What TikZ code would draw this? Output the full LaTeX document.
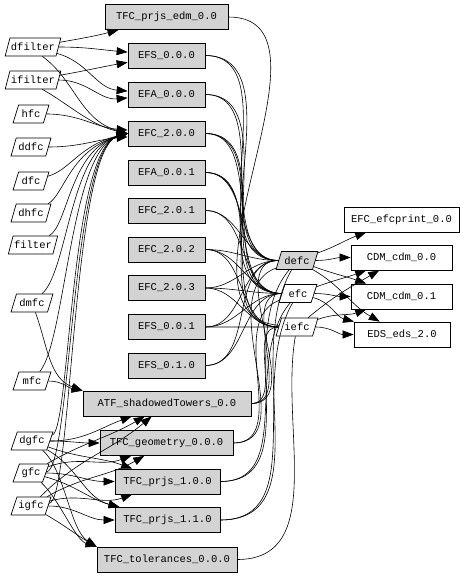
\documentclass[tikz,border=0pt]{standalone}
\usepackage{fontspec}
\setmonofont{Liberation Mono}
\usetikzlibrary{positioning,arrows.meta,shapes.geometric}
\definecolor{boxgray}{HTML}{D3D3D3}
\tikzset{
  flowarrow/.style={-{Triangle[length=11pt,width=8pt]}, line width=0.6pt},
  flowline/.style={line width=0.6pt},
  procbox/.style={draw, line width=0.7pt, fill=boxgray, minimum height=25pt, inner xsep=0pt},
  outbox/.style={draw, line width=0.7pt, fill=white, minimum height=25pt, inner xsep=0pt},
  filenode/.style={draw, line width=0.7pt, fill=white, trapezium, trapezium left angle=64, trapezium right angle=116, trapezium stretches=true, minimum height=18pt, inner xsep=1pt, inner ysep=1pt},
  shadefile/.style={filenode, fill=boxgray}
}

\begin{document}
\begin{tikzpicture}[x=1pt, y=-1pt, every node/.style={font=\ttfamily\fontsize{10.5}{12}\selectfont}]
  \useasboundingbox (0,0) rectangle (464,576);
  % input files
  \node[filenode, minimum width=54pt] (dfilter) at (33,47) {dfilter};
  \node[filenode, minimum width=54pt] (ifilter) at (33,80) {ifilter};
  \node[filenode, minimum width=36pt] (hfc) at (31,114) {hfc};
  \node[filenode, minimum width=40pt] (ddfc) at (31,147) {ddfc};
  \node[filenode, minimum width=36pt] (dfc) at (31,181) {dfc};
  \node[filenode, minimum width=40pt] (dhfc) at (31,213) {dhfc};
  \node[filenode, minimum width=48pt] (filter) at (33,245) {filter};
  \node[filenode, minimum width=42pt] (dmfc) at (32,303) {dmfc};
  \node[filenode, minimum width=38pt] (mfc) at (32,381) {mfc};
  \node[filenode, minimum width=42pt] (dgfc) at (32,441) {dgfc};
  \node[filenode, minimum width=36pt] (gfc) at (31,473) {gfc};
  \node[filenode, minimum width=40pt] (igfc) at (31,506) {igfc};
  % processing steps
  \node[procbox, minimum width=123pt] (tfcedm) at (166.5,17) {TFC\_prjs\_edm\_0.0};
  \node[procbox, minimum width=77pt] (efs000) at (166.5,55.5) {EFS\_0.0.0};
  \node[procbox, minimum width=77pt] (efa000) at (166.5,94.5) {EFA\_0.0.0};
  \node[procbox, minimum width=77pt] (efc200) at (166.5,133.5) {EFC\_2.0.0};
  \node[procbox, minimum width=77pt] (efa001) at (166.5,172.5) {EFA\_0.0.1};
  \node[procbox, minimum width=77pt] (efc201) at (166.5,210.5) {EFC\_2.0.1};
  \node[procbox, minimum width=77pt] (efc202) at (166.5,249.5) {EFC\_2.0.2};
  \node[procbox, minimum width=77pt] (efc203) at (166.5,288) {EFC\_2.0.3};
  \node[procbox, minimum width=77pt] (efs001) at (166.5,327) {EFS\_0.0.1};
  \node[procbox, minimum width=77pt] (efs010) at (166.5,365.5) {EFS\_0.1.0};
  \node[procbox, minimum width=168pt] (atf) at (167,403.5) {ATF\_shadowedTowers\_0.0};
  \node[procbox, minimum width=133pt] (tfcgeo) at (166.5,443) {TFC\_geometry\_0.0.0};
  \node[procbox, minimum width=105pt] (tfcp100) at (167.5,481.5) {TFC\_prjs\_1.0.0};
  \node[procbox, minimum width=105pt] (tfcp110) at (167.5,520) {TFC\_prjs\_1.1.0};
  \node[procbox, minimum width=140pt] (tfctol) at (167,559.5) {TFC\_tolerances\_0.0.0};
  % intermediate files
  \node[shadefile, minimum width=42pt] (defc) at (297,260.5) {defc};
  \node[filenode, minimum width=38pt] (efc) at (298,293.5) {efc};
  \node[filenode, minimum width=42pt] (iefc) at (297,327) {iefc};
  % outputs
  \node[outbox, minimum width=115pt] (efcprint) at (401.5,219.5) {EFC\_efcprint\_0.0};
  \node[outbox, minimum width=101pt] (cdm00) at (401.5,257.5) {CDM\_cdm\_0.0};
  \node[outbox, minimum width=101pt] (cdm01) at (401.5,296.5) {CDM\_cdm\_0.1};
  \node[outbox, minimum width=96pt] (eds20) at (402,334.5) {EDS\_eds\_2.0};

  % inputs to steps
  \draw[flowarrow] (dfilter) to[out=10,in=195] (tfcedm);
  \draw[flowarrow] (dfilter) to[out=0,in=175] (efs000);
  \draw[flowarrow] (dfilter) to[out=-15,in=175] (efa000);
  \draw[flowarrow] (dfilter.south east) .. controls (75,80) and (80,120) .. (efc200.west);
  \draw[flowarrow] (ifilter) to[out=10,in=190] (efs000);
  \draw[flowarrow] (ifilter) to[out=0,in=185] (efa000);
  \draw[flowarrow] (ifilter.south east) .. controls (70,105) and (90,125) .. (efc200.west);
  \draw[flowarrow] (hfc) to[out=0,in=175] (efc200);
  \draw[flowarrow] (ddfc) to[out=0,in=185] (efc200);
  \draw[flowarrow] (dfc) .. controls (70,170) and (80,145) .. (efc200.west);
  \draw[flowarrow] (dhfc) .. controls (64,195) and (70,150) .. (efc200.west);
  \draw[flowarrow] (filter) .. controls (68,225) and (70,150) .. (efc200.west);
  \draw[flowarrow] (dmfc) .. controls (68,270) and (70,150) .. (efc200.west);
  \draw[flowarrow] (mfc) .. controls (66,340) and (70,150) .. (efc200.west);
  \draw[flowarrow] (dgfc) .. controls (70,430) and (70,150) .. (efc200.west);
  \draw[flowarrow] (gfc) .. controls (71,470) and (71,150) .. (efc200.west);
  \draw[flowarrow] (igfc) .. controls (72,500) and (72,150) .. (efc200.west);
  \draw[flowarrow] (dmfc) to[out=-70,in=160] (atf.north west);
  \draw[flowarrow] (mfc) to[out=0,in=170] (atf.north west);
  \draw[flowarrow] (dgfc) to[out=0,in=200] (atf);
  \draw[flowarrow] (gfc) to[out=30,in=210] (atf);
  \draw[flowarrow] (igfc) to[out=45,in=220] (atf);
  \draw[flowarrow] (dgfc) to[out=0,in=180] (tfcgeo);
  \draw[flowarrow] (gfc) to[out=20,in=200] (tfcgeo);
  \draw[flowarrow] (igfc) to[out=30,in=210] (tfcgeo);
  \draw[flowarrow] (dgfc) to[out=-20,in=160] (tfcp100);
  \draw[flowarrow] (gfc) to[out=0,in=180] (tfcp100);
  \draw[flowarrow] (igfc) to[out=15,in=200] (tfcp100);
  \draw[flowarrow] (dgfc) to[out=-30,in=165] (tfcp110);
  \draw[flowarrow] (gfc) to[out=-15,in=165] (tfcp110);
  \draw[flowarrow] (igfc) to[out=0,in=180] (tfcp110);
  \draw[flowarrow] (dgfc) .. controls (65,470) and (70,530) .. (tfctol.north west);
  \draw[flowarrow] (gfc) .. controls (60,500) and (75,540) .. (tfctol.north west);
  \draw[flowarrow] (igfc) to[out=-30,in=150] (tfctol.north west);

  % steps to intermediate files
  \draw[flowline] (tfcedm) to[out=0,in=175] (iefc);
  \draw[flowline] (efs000) to[out=0,in=180] (defc);
  \draw[flowline] (efs000) to[out=0,in=180] (efc);
  \draw[flowline] (efa000) to[out=0,in=180] (defc);
  \draw[flowline] (efa000) to[out=0,in=180] (efc);
  \draw[flowline] (efc200) to[out=0,in=180] (defc);
  \draw[flowline] (efc200) to[out=0,in=180] (efc);
  \draw[flowline] (efc200) to[out=0,in=180] (iefc);
  \draw[flowline] (efa001) to[out=0,in=180] (defc);
  \draw[flowline] (efa001) to[out=0,in=180] (efc);
  \draw[flowline] (efa001) to[out=0,in=180] (iefc);
  \draw[flowline] (efc201) to[out=0,in=180] (defc);
  \draw[flowline] (efc201) to[out=0,in=180] (efc);
  \draw[flowline] (efc202) to[out=0,in=180] (defc);
  \draw[flowline] (efc202) to[out=0,in=180] (efc);
  \draw[flowline] (efc202) to[out=0,in=180] (iefc);
  \draw[flowline] (efc203) to[out=0,in=180] (defc);
  \draw[flowline] (efc203) to[out=0,in=180] (efc);
  \draw[flowline] (efc203) to[out=0,in=180] (iefc);
  \draw[flowline] (efs001) to[out=0,in=180] (defc);
  \draw[flowline] (efs001) to[out=0,in=180] (efc);
  \draw[flowline] (efs001) to[out=0,in=180] (iefc);
  \draw[flowline] (efs010) to[out=0,in=180] (defc);
  \draw[flowline] (efs010) to[out=0,in=180] (efc);
  \draw[flowline] (atf) to[out=0,in=180] (defc);
  \draw[flowline] (atf) to[out=0,in=180] (efc);
  \draw[flowline] (atf) to[out=0,in=180] (iefc);
  \draw[flowline] (tfcgeo) to[out=0,in=200] (defc);
  \draw[flowline] (tfcgeo) to[out=0,in=200] (efc);
  \draw[flowline] (tfcp100) to[out=0,in=230] (defc);
  \draw[flowline] (tfcp100) to[out=0,in=230] (efc);
  \draw[flowline] (tfcp110) to[out=0,in=240] (defc);
  \draw[flowline] (tfcp110) to[out=0,in=240] (efc);
  \draw[flowline] (tfctol) to[out=0,in=260] (iefc);

  % intermediate files to outputs
  \draw[flowarrow] (defc) to[out=20,in=200] (efcprint);
  \draw[flowarrow] (defc) to[out=0,in=180] (cdm00);
  \draw[flowarrow] (defc) to[out=-20,in=160] (cdm01);
  \draw[flowarrow] (defc) to[out=-30,in=150] (eds20);
  \draw[flowarrow] (efc) to[out=20,in=200] (cdm00);
  \draw[flowarrow] (efc) to[out=0,in=180] (cdm01);
  \draw[flowarrow] (efc) to[out=-15,in=165] (eds20);
  \draw[flowarrow] (iefc) to[out=40,in=210] (cdm00);
  \draw[flowarrow] (iefc) to[out=20,in=200] (cdm01);
  \draw[flowarrow] (iefc) to[out=0,in=180] (eds20);
\end{tikzpicture}
\end{document}
